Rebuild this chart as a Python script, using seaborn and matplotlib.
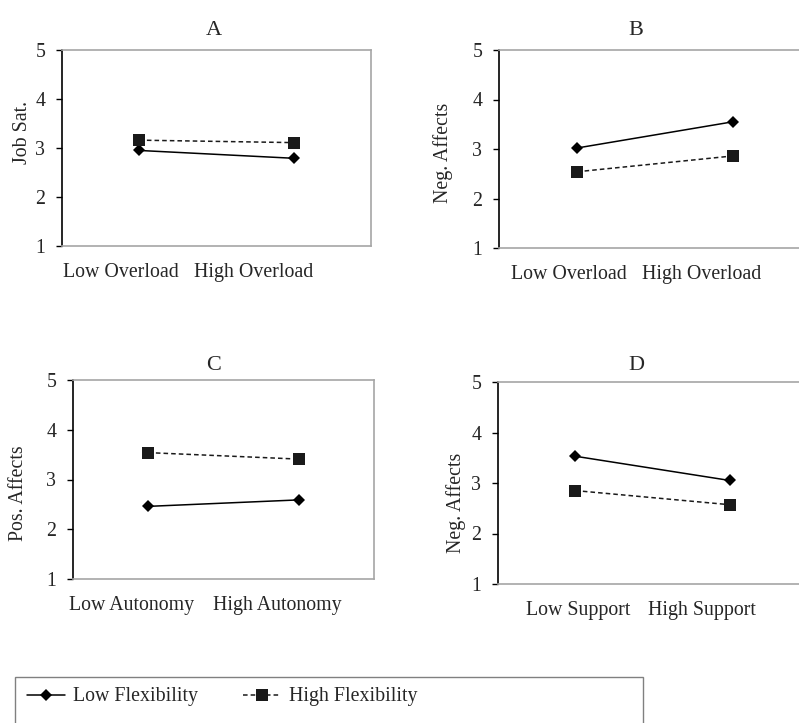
import pandas as pd
import matplotlib
matplotlib.use("Agg")
import matplotlib.pyplot as plt
import seaborn as sns
from matplotlib.patches import Rectangle

sns.set_style("white")
plt.rcParams['font.family'] = ['Liberation Serif', 'DejaVu Serif']

# data
groups = ["Low Flexibility", "High Flexibility"]
titles = ["A", "B", "C", "D"]
ylabels = ["Job Sat.", "Neg. Affects", "Pos. Affects", "Neg. Affects"]
levels = [["Low Overload", "High Overload"],
          ["Low Overload", "High Overload"],
          ["Low Autonomy", "High Autonomy"],
          ["Low Support", "High Support"]]
low_flex = [[2.95, 2.79], [3.02, 3.55], [2.46, 2.59], [3.53, 3.05]]
high_flex = [[3.16, 3.11], [2.54, 2.86], [3.54, 3.41], [2.85, 2.57]]
yticks = [1, 2, 3, 4, 5]

# layout (figure pixels 799x723)
W, H = 799, 723
rects_px = [(62, 50, 309, 196), (499, 50, 312, 198),
            (73, 380, 301, 199), (498, 382, 309, 202)]
xlabel_pos = [(-0.12, 0.74), (-0.05, 0.8), (-0.11, 0.86), (0.02, 0.82)]
ylabel_xy = [(-0.097, 0.58), (-0.148, 0.48), (-0.148, 0.43), (-0.105, 0.40)]
title_x = [0.49, 0.44, 0.466, 0.448]
title_pad = [11, 11, 7, 9]
fs = 14.3

fig = plt.figure(figsize=(W / 100, H / 100), dpi=100)
axes = []

for i in range(4):
    x0, y0, w, h = rects_px[i]
    ax = fig.add_axes([x0 / W, 1 - (y0 + h) / H, w / W, h / H])
    axes.append(ax)

    df = pd.DataFrame({
        "level": levels[i] * 2,
        "value": low_flex[i] + high_flex[i],
        "group": [groups[0]] * 2 + [groups[1]] * 2,
    })
    sns.lineplot(data=df, x="level", y="value", hue="group", style="group",
                 hue_order=groups, style_order=groups,
                 palette=["black", "#1a1a1a"],
                 markers={groups[0]: "D", groups[1]: "s"},
                 dashes={groups[0]: "", groups[1]: (3, 2)},
                 linewidth=1.1, markeredgewidth=0, legend=False, ax=ax)
    for ln in ax.get_lines():
        if ln.get_marker() == "s":
            ln.set_markersize(8)
        else:
            ln.set_markersize(6)

    ax.set_xlim(-0.5, 1.5)
    ax.set_ylim(1, 5)
    ax.set_yticks(yticks)
    ax.set_yticklabels([str(t) for t in yticks], fontsize=fs)
    ax.set_xticks(list(xlabel_pos[i]))
    ax.set_xticklabels(levels[i], fontsize=fs)
    ax.tick_params(axis="x", length=0, pad=12)
    ax.tick_params(axis="y", length=4, width=1, color="black", direction="out", pad=8, left=True)
    ax.set_xlabel("")
    ax.set_ylabel(ylabels[i], fontsize=fs)
    ax.yaxis.set_label_coords(*ylabel_xy[i])
    ax.set_title(titles[i], fontsize=16, x=title_x[i], pad=title_pad[i])

    for side in ["top", "right", "bottom"]:
        ax.spines[side].set_color("#a6a6a6")
        ax.spines[side].set_linewidth(1.2)
    ax.spines["left"].set_color("black")
    ax.spines["left"].set_linewidth(1.2)

# legend box at the bottom (cut by the image edge)
fig.add_artist(Rectangle((15 / W, -0.05), (643 - 15) / W, 0.05 + (H - 677) / H,
                         transform=fig.transFigure, fill=False,
                         edgecolor="#808080", linewidth=1))
handles = axes[0].get_lines()[:2]
fig.legend(handles, groups, loc="center left", bbox_to_anchor=(9 / W, 1 - 697 / H),
           ncol=2, frameon=False, fontsize=fs, handlelength=1.9,
           handletextpad=0.4, columnspacing=2.3)

fig.savefig("out.png", dpi=100)
